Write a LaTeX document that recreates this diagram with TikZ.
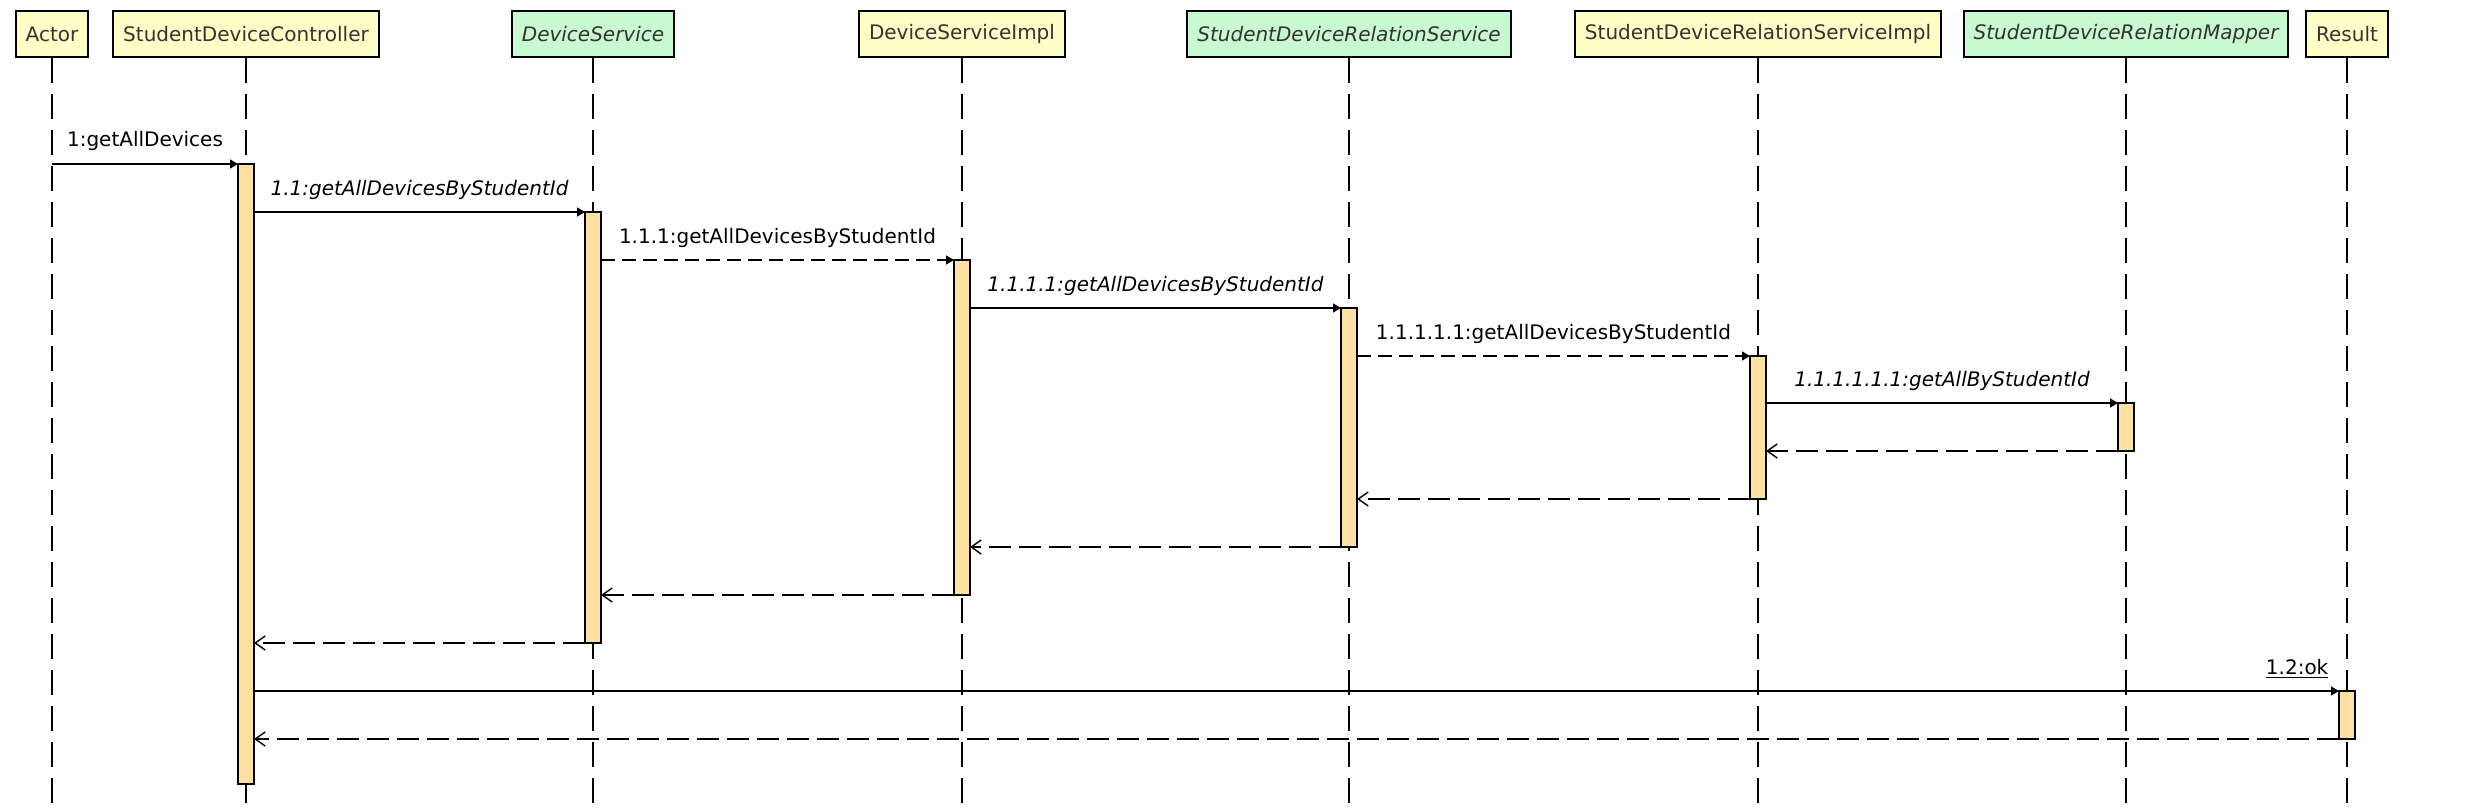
\documentclass[tikz,border=0pt]{standalone}
\usepackage{fontspec}
\setmainfont{DejaVu Sans}
\usetikzlibrary{arrows.meta}
\definecolor{classfill}{HTML}{FFFFC8}
\definecolor{ifacefill}{HTML}{C9F9D1}
\definecolor{barfill}{HTML}{FFE0A3}
\definecolor{headtext}{HTML}{333333}
\tikzset{every path/.style={line width=0.7pt}}
\tikzset{
  head/.style={draw, line width=1pt, minimum height=23pt, inner xsep=5pt,
    text=headtext, font=\fontsize{10}{12}\selectfont},
  classhead/.style={head, fill=classfill},
  ifacehead/.style={head, fill=ifacefill, font=\fontsize{10}{12}\selectfont\itshape},
  lifeline/.style={dash pattern=on 12.5pt off 5.5pt, line width=0.75pt},
  bar/.style={draw, fill=barfill, minimum width=8pt, inner sep=0pt, outer sep=0pt, line width=0.6pt},
  call/.style={-{Triangle[length=4pt,width=4.5pt]}},
  calldash/.style={call, dash pattern=on 7pt off 3.5pt},
  reply/.style={-{Straight Barb[length=5pt,width=7pt]}, dash pattern=on 11pt off 4pt},
  msg/.style={midway, anchor=base, yshift=8.5pt, inner sep=0pt, font=\fontsize{10}{12}\selectfont},
  msgi/.style={msg, font=\fontsize{10}{12}\selectfont\itshape},
}
% #1 name, #2 x, #3 style, #4 text
\newcommand{\participant}[4]{
  \node[#3] (#1) at (#2,34) {#4};
  \coordinate (#1end) at (#2,808);
  \draw[lifeline] (#1.south) -- (#1end);
}
% #1 name, #2 x, #3 top, #4 bottom
\newcommand{\activation}[4]{
  \node[bar, anchor=north, minimum height={(#4-#3)*0.5pt}] (#1) at (#2,#3) {};
}

\begin{document}
\begin{tikzpicture}[x=0.5pt,y=-0.5pt]
  \useasboundingbox (0,0) rectangle (2488,808);

  \participant{actor}{52}{classhead}{Actor}
  \participant{sdc}{246}{classhead}{StudentDeviceController}
  \participant{ds}{593}{ifacehead}{DeviceService}
  \participant{dsi}{962}{classhead}{DeviceServiceImpl}
  \participant{sdrs}{1349}{ifacehead}{StudentDeviceRelationService}
  \participant{sdrsi}{1758}{classhead}{StudentDeviceRelationServiceImpl}
  \participant{sdrm}{2126}{ifacehead}{StudentDeviceRelationMapper}
  \participant{res}{2347}{classhead}{Result}

  \activation{aSdc}{246}{164}{784}
  \activation{aDs}{593}{212}{643}
  \activation{aDsi}{962}{260}{595}
  \activation{aSdrs}{1349}{308}{547}
  \activation{aSdrsi}{1758}{356}{499}
  \activation{aSdrm}{2126}{403}{451}
  \activation{aRes}{2347}{691}{739}

  % calls
  \draw[call] (actor |- aSdc.north) -- (aSdc.north west) node[msg] {1:getAllDevices};
  \draw[call] (aDs.north west -| aSdc.east) -- (aDs.north west) node[msgi] {1.1:getAllDevicesByStudentId};
  \draw[calldash] (aDsi.north west -| aDs.east) -- (aDsi.north west) node[msg] {1.1.1:getAllDevicesByStudentId};
  \draw[call] (aSdrs.north west -| aDsi.east) -- (aSdrs.north west) node[msgi] {1.1.1.1:getAllDevicesByStudentId};
  \draw[calldash] (aSdrsi.north west -| aSdrs.east) -- (aSdrsi.north west) node[msg] {1.1.1.1.1:getAllDevicesByStudentId};
  \draw[call] (aSdrm.north west -| aSdrsi.east) -- (aSdrm.north west) node[msgi] {1.1.1.1.1.1:getAllByStudentId};

  % returns
  \draw[reply] (aSdrm.south west) -- (aSdrm.south west -| aSdrsi.east);
  \draw[reply] (aSdrsi.south west) -- (aSdrsi.south west -| aSdrs.east);
  \draw[reply] (aSdrs.south west) -- (aSdrs.south west -| aDsi.east);
  \draw[reply] (aDsi.south west) -- (aDsi.south west -| aDs.east);
  \draw[reply] (aDs.south west) -- (aDs.south west -| aSdc.east);

  \draw[call] (aRes.north west -| aSdc.east) -- (aRes.north west)
    node[msg, pos=1, anchor=base east, xshift=-5pt] {\underline{1.2:ok}};
  \draw[reply] (aRes.south west) -- (aRes.south west -| aSdc.east);
\end{tikzpicture}
\end{document}
